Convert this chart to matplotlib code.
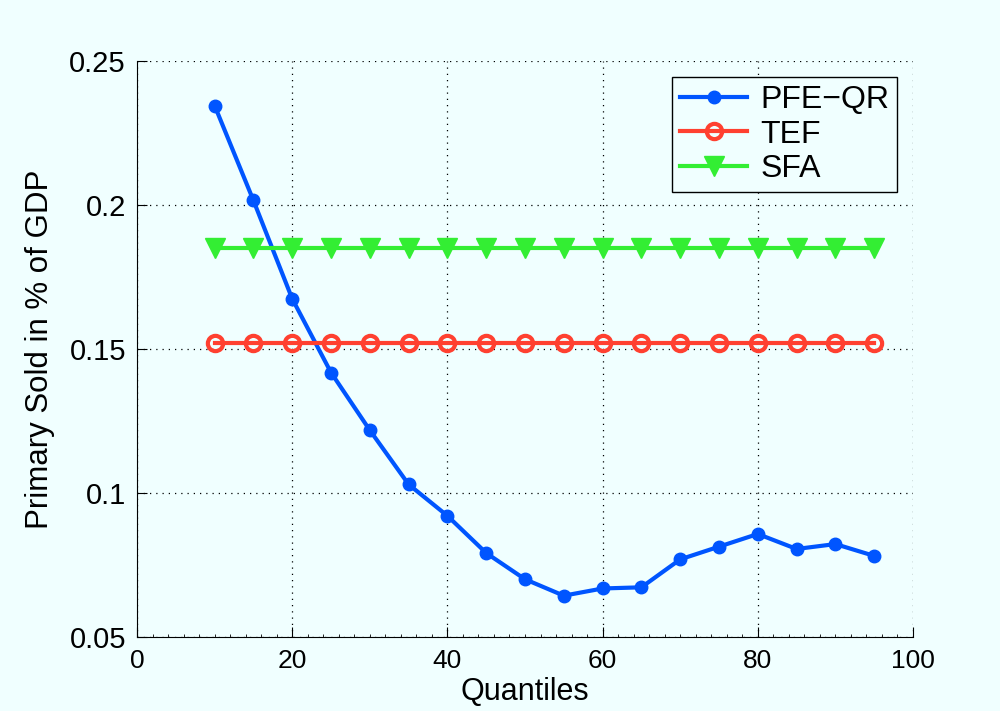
import matplotlib.pyplot as plt
from matplotlib.ticker import MultipleLocator

quantiles = [10, 15, 20, 25, 30, 35, 40, 45, 50, 55, 60, 65, 70, 75, 80, 85, 90, 95]
pfe_qr = [0.2345, 0.2016, 0.1675, 0.1419, 0.1219, 0.1031, 0.0922, 0.0793, 0.0702,
          0.0645, 0.0670, 0.0674, 0.0771, 0.0815, 0.0859, 0.0807, 0.0824, 0.0783]
tef = [0.152] * len(quantiles)
sfa = [0.185] * len(quantiles)

plt.rcParams['font.family'] = ['Liberation Sans', 'DejaVu Sans']
bg = '#f0ffff'

fig = plt.figure(figsize=(10, 7.11), dpi=100, facecolor=bg)
ax = fig.add_axes([0.137, 0.1034, 0.776, 0.811], facecolor=bg)

ax.plot(quantiles, pfe_qr, color='#0055ff', lw=3, marker='o', ms=9, label='PFE\u2212QR')
ax.plot(quantiles, tef, color='#ff4030', lw=3, marker='o', ms=11, mfc='none', mew=3, label='TEF')
ax.plot(quantiles, sfa, color='#33ee33', lw=3, marker='v', ms=15, label='SFA')

ax.set_xlim(0, 100)
ax.set_ylim(0.05, 0.25)
ax.set_xticks([0, 20, 40, 60, 80, 100])
ax.set_yticks([0.05, 0.1, 0.15, 0.2, 0.25])
ax.set_yticklabels(['0.05', '0.1', '0.15', '0.2', '0.25'])
ax.xaxis.set_minor_locator(MultipleLocator(2))
ax.tick_params(which='both', direction='in', top=False, right=False)
ax.tick_params(axis='x', labelsize=19, pad=8)
ax.tick_params(axis='y', labelsize=21, pad=8)
ax.tick_params(which='major', length=7)
ax.tick_params(which='minor', length=2)
ax.grid(True, linestyle=(0, (1, 4)), color='black', lw=0.9)

for s in ['top', 'right']:
    ax.spines[s].set_visible(False)

ax.set_xlabel('Quantiles', fontsize=22, labelpad=3)
ax.set_ylabel('Primary Sold in % of GDP', fontsize=22.5, labelpad=10)

leg = ax.legend(loc='upper right', fontsize=23, fancybox=False, edgecolor='black',
                facecolor=bg, framealpha=1, handlelength=2.1, handletextpad=0.4,
                labelspacing=0.15, borderpad=0.25, borderaxespad=0.5)
leg.get_frame().set_linewidth(1)

fig.savefig('out.png', dpi=100, facecolor=bg)
